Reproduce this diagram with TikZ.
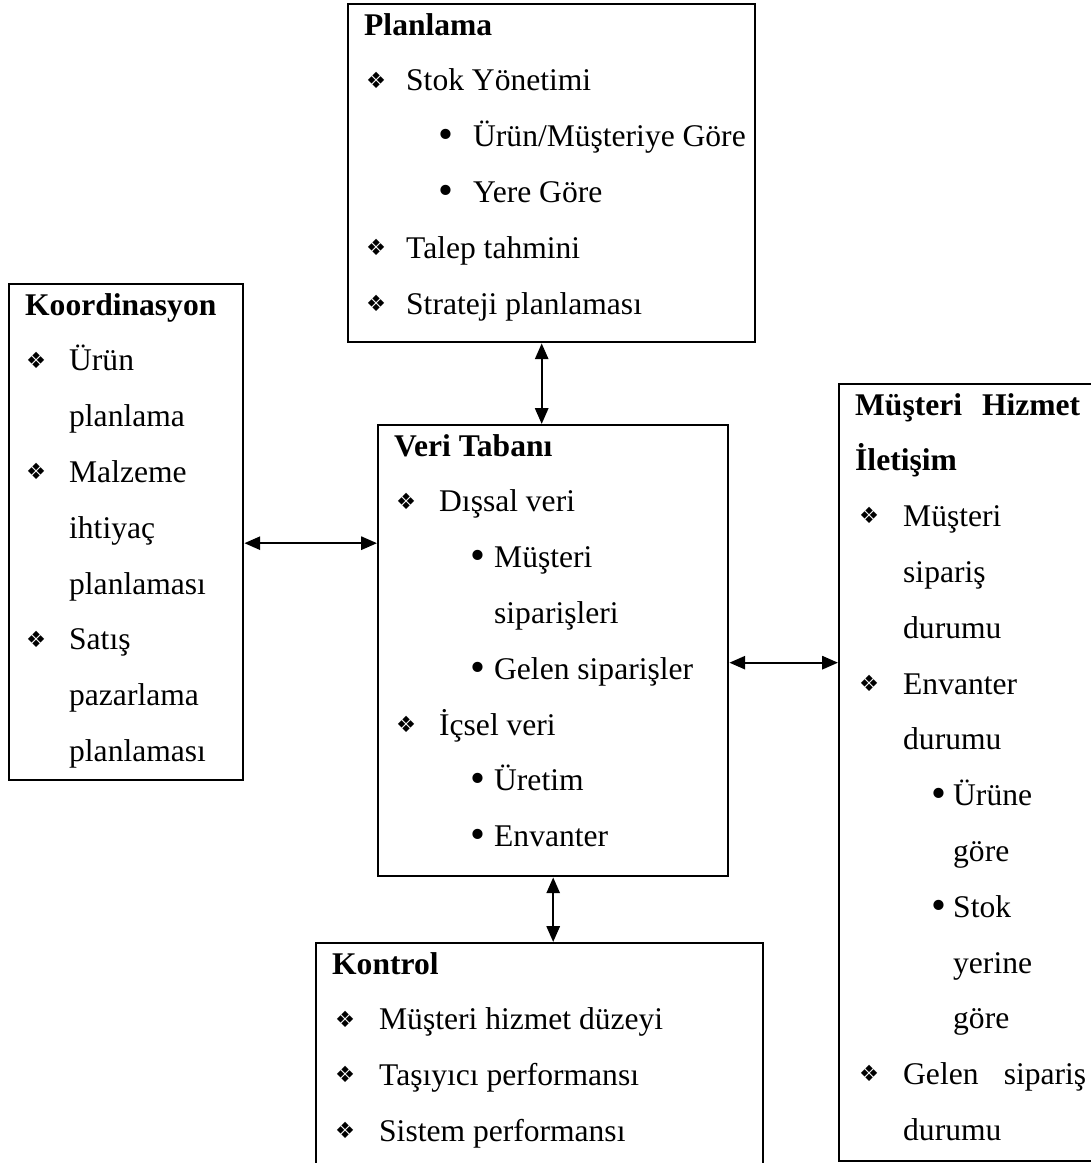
\documentclass[tikz,border=0pt]{standalone}
\usepackage{fontspec}
\usepackage{graphicx}
\setmainfont{Liberation Serif}
\newfontfamily\diafont{DejaVu Sans}
\usetikzlibrary{arrows.meta,calc}

% one pixel of the reference
\newlength\px \setlength\px{0.3802pt}
\newlength\diapos \newlength\textpos \newlength\dotpos \newlength\subpos
\newcommand{\offsets}[4]{\setlength\diapos{#1\px}\setlength\textpos{#2\px}%
  \setlength\dotpos{#3\px}\setlength\subpos{#4\px}}
\newcommand{\dia}{\raisebox{1.1pt}{\diafont\fontsize{8.5pt}{9pt}\selectfont ❖}}
\newcommand{\dotmark}{\raisebox{-0.7pt}{\scalebox{1.35}{\textbullet}}}
\newcommand{\boxtitle}[1]{\rule{0pt}{31\px}\hspace*{16\px}\textbf{#1}\par}
\newcommand{\diaitem}[1]{\makebox[\textpos][l]{\hspace*{\diapos}\dia}#1\par}
\newcommand{\diacont}[1]{\hspace*{\textpos}#1\par}
\newcommand{\dotitem}[1]{\makebox[\subpos][l]{\hspace*{\dotpos}\dotmark}#1\par}
\newcommand{\dotcont}[1]{\hspace*{\subpos}#1\par}
\newcommand{\boxtext}[3]{\begin{minipage}[t][#2\px][t]{#1\px}%
  \fontsize{12pt}{55.8\px}\selectfont #3\end{minipage}}

\begin{document}
\begin{tikzpicture}[x=0.3802pt, y=-0.3802pt,
  box/.style={draw, line width=0.9pt, inner sep=0pt, anchor=north west},
  link/.style={{Triangle[length=6pt,width=5pt]}-{Triangle[length=6pt,width=5pt]}, line width=0.85pt}]
  \useasboundingbox (0,0) rectangle (1090,1163);

  \node[box] (plan) at (347,3) {\boxtext{407}{338}{\offsets{18}{58}{90}{125}%
    \boxtitle{Planlama}
    \diaitem{Stok Yönetimi}
    \dotitem{Ürün/Müşteriye Göre}
    \dotitem{Yere Göre}
    \diaitem{Talep tahmini}
    \diaitem{Strateji planlaması}}};

  \node[box] (koord) at (8,283) {\boxtext{234}{496}{\offsets{17}{60}{90}{110}%
    \boxtitle{Koordinasyon}
    \diaitem{Ürün}
    \diacont{planlama}
    \diaitem{Malzeme}
    \diacont{ihtiyaç}
    \diacont{planlaması}
    \diaitem{Satış}
    \diacont{pazarlama}
    \diacont{planlaması}}};

  \node[box] (veri) at (377,424) {\boxtext{350}{451}{\offsets{18}{61}{92}{116}%
    \boxtitle{Veri Tabanı}
    \diaitem{Dışsal veri}
    \dotitem{Müşteri}
    \dotcont{siparişleri}
    \dotitem{Gelen siparişler}
    \diaitem{İçsel veri}
    \dotitem{Üretim}
    \dotitem{Envanter}}};

  \node[box] (musteri) at (838,383) {\boxtext{265}{777}{\offsets{20}{64}{92}{114}%
    \boxtitle{\makebox[225\px][s]{Müşteri Hizmet}}
    \boxtitle{İletişim}
    \diaitem{Müşteri}
    \diacont{sipariş}
    \diacont{durumu}
    \diaitem{Envanter}
    \diacont{durumu}
    \dotitem{Ürüne}
    \dotcont{göre}
    \dotitem{Stok}
    \dotcont{yerine}
    \dotcont{göre}
    \diaitem{\makebox[183\px][s]{Gelen sipariş}}
    \diacont{durumu}}};

  \node[box] (kontrol) at (315,942) {\boxtext{447}{240}{\offsets{19}{63}{93}{110}%
    \boxtitle{Kontrol}
    \diaitem{Müşteri hizmet düzeyi}
    \diaitem{Taşıyıcı performansı}
    \diaitem{Sistem performansı}}};

  % connectors
  \draw[link] ([xshift=-10\px]plan.south) -- ([xshift=-10\px]plan.south |- veri.north);
  \draw[link] ([yshift=-11\px]koord.east) -- ([yshift=-11\px]koord.east -| veri.west);
  \draw[link] ([yshift=-12\px]veri.east) -- ([yshift=-12\px]veri.east -| musteri.west);
  \draw[link] (veri.south) -- (veri.south |- kontrol.north);
\end{tikzpicture}
\end{document}
